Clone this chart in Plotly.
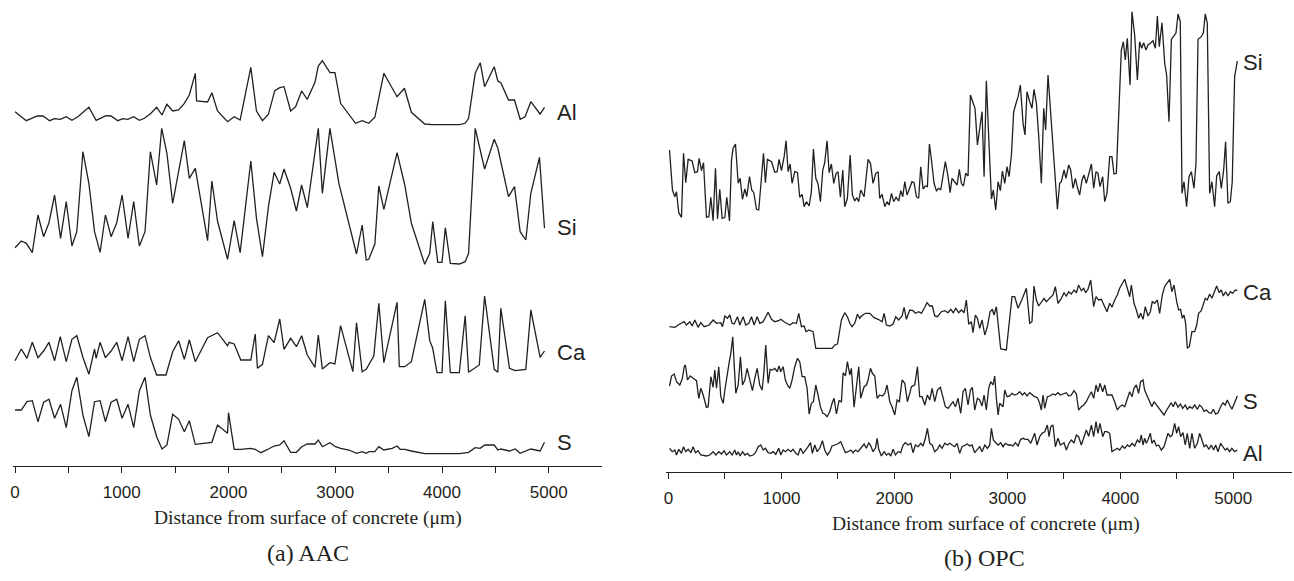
import plotly.graph_objects as go

# ---------------- data (x in µm, relative intensity) ----------------
aac_al = [(0,13.3),(106,4.3),(209,9),(262,9),(324,4.3),(371,6.3),(424,5.7),(480,8.3),(533,4.7),(589,8.3),(692,17.7),(760,4.7),(853,9.3),(900,9),(963,4.3),(1009,6.3),(1056,5.7),(1112,8.3),(1165,4.7),(1212,6.7),(1274,11.7),(1327,17.7),(1377,10),(1423,20.7),(1477,14),(1533,15),(1586,21.7),(1633,30),(1689,51.7),(1701,24),(1804,23),(1844,32.3),(1897,14),(1991,3.3),(2053,8.3),(2109,5),(2209,57.7),(2262,14),(2318,4.3),(2374,10.7),(2433,34.3),(2480,37.3),(2520,38.3),(2582,14),(2629,18.3),(2685,34),(2738,25.7),(2810,42.7),(2841,59),(2879,64.3),(2950,52.3),(2997,52.3),(3050,21.7),(3128,10),(3190,1.7),(3252,4.3),(3314,1.7),(3371,7.7),(3455,51.7),(3579,28.3),(3648,36.7),(3713,12.7),(3838,1),(3907,0.3),(4165,0.3),(4217,1.7),(4249,6.7),(4311,51.7),(4358,62.3),(4399,38.3),(4489,58.3),(4523,44),(4551,42.3),(4623,25),(4679,25),(4732,5.7),(4778,8.3),(4832,23.3),(4919,11),(4960,17.7)]
aac_si = [(0,17.3),(59,24),(106,21.7),(162,12.3),(215,50),(268,28.3),(318,42.3),(371,70),(427,26.7),(480,63.3),(533,19),(579,33.3),(636,113.3),(692,81.7),(745,33.3),(797,12.7),(847,50),(900,28.3),(953,42.3),(1003,70),(1059,26.7),(1112,63.3),(1165,19),(1218,33.3),(1268,113.3),(1327,80),(1374,136.7),(1423,111.7),(1477,61.7),(1586,124.3),(1633,86.7),(1689,96.7),(1804,24.3),(1844,84),(1897,44),(1991,5.7),(2053,44.3),(2109,12.3),(2209,104),(2262,46.7),(2318,8.3),(2374,58.3),(2427,92.7),(2480,81),(2520,96),(2582,76.7),(2636,54),(2685,80),(2738,57.3),(2841,136.7),(2879,71.7),(2950,136.7),(3034,81.7),(3128,41.7),(3199,11),(3252,40),(3290,5),(3314,5.7),(3371,21),(3408,79),(3455,55.7),(3579,112.3),(3651,80),(3713,41.7),(3838,0.7),(3885,11.7),(3913,43.3),(3960,2.7),(4000,2.7),(4031,37.3),(4078,1.7),(4162,1),(4217,3.3),(4249,11.7),(4311,136.7),(4399,96),(4489,125.7),(4523,116.7),(4623,68.3),(4679,78.3),(4732,33.3),(4785,25),(4832,71.7),(4913,107.7),(4960,36.7)]
aac_ca = [(0,15.3),(59,27),(112,17.7),(162,33.7),(215,18.3),(268,25),(318,33.7),(371,15.3),(424,39.3),(480,14.3),(533,36.7),(579,40.3),(636,18.7),(692,1.7),(745,27),(760,17.7),(797,33.7),(847,18.3),(900,25),(953,33.7),(1003,15.3),(1059,39.3),(1112,14.3),(1165,36.7),(1218,40.3),(1268,18.7),(1327,1),(1414,1),(1477,24.3),(1533,35.3),(1586,16.7),(1633,36),(1689,14.3),(1804,38.3),(1897,43.3),(1991,30.3),(2006,33.7),(2053,32),(2115,16),(2209,16),(2250,42),(2271,7.7),(2318,11.7),(2374,40.3),(2427,33.3),(2480,57),(2520,26.7),(2582,37.7),(2636,29.3),(2685,40.3),(2738,21),(2810,8.7),(2841,41),(2879,7),(2950,13.3),(2997,12),(3050,50.3),(3165,4.3),(3199,53.3),(3252,4.3),(3290,6.7),(3361,20),(3408,72.7),(3455,13.3),(3579,73.7),(3600,9.3),(3651,9.3),(3713,14.3),(3838,76.7),(3885,35.3),(3913,27.7),(3953,3.3),(4000,3.3),(4031,75.3),(4078,3.3),(4162,3.3),(4217,60.3),(4249,3.7),(4349,11),(4399,80),(4489,6.7),(4523,3.7),(4551,67.7),(4632,7.7),(4685,5.3),(4785,6.7),(4832,66),(4919,18.7),(4960,25)]
aac_s = [(0,45),(59,45),(112,53.3),(162,54.3),(215,33.3),(268,52.7),(318,55.7),(371,36.7),(427,50.7),(480,27.3),(533,64.3),(579,77.7),(636,40),(692,18.3),(745,53.3),(797,54.3),(847,33.3),(900,52.7),(953,55.7),(1003,36.7),(1059,50.7),(1112,27.3),(1165,64.3),(1218,77.7),(1268,40),(1327,18.3),(1377,6),(1423,10),(1477,40.7),(1533,35.7),(1586,23.3),(1633,34.3),(1689,10.7),(1804,11.7),(1844,12.7),(1897,30),(1991,21.7),(2000,42.3),(2053,5.7),(2115,5.7),(2209,6.7),(2250,5.7),(2303,2.3),(2374,6),(2427,9),(2480,10),(2520,14.3),(2582,2.7),(2636,2.7),(2685,8.3),(2738,11),(2810,11),(2841,15),(2879,8.3),(2950,12.3),(3003,8.3),(3050,6.7),(3128,5),(3199,1.7),(3252,3.3),(3290,1.7),(3314,3.3),(3371,3.3),(3408,8.3),(3455,5),(3533,6.7),(3579,9),(3608,5.7),(3651,5.7),(3713,4),(3838,1.3),(4162,1.3),(4249,2.7),(4311,7.3),(4358,6.7),(4399,10),(4489,10),(4523,5),(4551,6),(4632,4),(4685,6),(4732,1.7),(4785,4),(4832,6),(4919,4),(4960,12.7)]

opc_si = [(9,72),(35,32),(56,25.3),(71,30.3),(91,9.3),(115,4.7),(133,68.7),(153,39.3),(174,62.7),(209,61),(233,49.3),(257,50.3),(271,63.7),(292,51.3),(310,59.3),(336,4.7),(357,5.3),(375,24.7),(395,1.3),(416,53.7),(434,3),(454,32.7),(475,3.7),(499,4.7),(516,24.7),(540,1),(558,62),(572,73.7),(593,78),(617,38.7),(634,43.7),(655,22.7),(676,33),(693,25.3),(717,45.3),(737,32),(755,29.3),(779,12.7),(799,12),(823,47),(841,68.7),(858,39.3),(876,62.7),(912,60.3),(941,49.7),(962,50.3),(979,62.7),(1000,51.3),(1024,65.3),(1041,81.3),(1059,50.3),(1077,58),(1094,38.7),(1118,50.3),(1142,49.3),(1162,24.7),(1183,27.7),(1201,15.3),(1221,20.3),(1245,16),(1265,30.3),(1283,73),(1304,43.7),(1324,38.3),(1345,20.3),(1366,52),(1383,59.3),(1404,81.3),(1422,49.3),(1442,58),(1463,38.7),(1484,48.7),(1501,50.3),(1522,24.7),(1543,52),(1560,15.3),(1584,23.7),(1608,67),(1628,27),(1649,21),(1667,24.3),(1684,20.3),(1702,32),(1732,25.3),(1767,62.7),(1788,58.7),(1811,38.7),(1835,48.7),(1856,50.3),(1870,23.7),(1891,27.7),(1915,15.3),(1935,20.3),(1953,17),(1974,28.7),(1994,20.3),(2015,24.7),(2038,21),(2056,31.3),(2074,25.3),(2092,40.3),(2112,27),(2136,35.3),(2156,40.3),(2174,39.3),(2195,25.3),(2215,23.7),(2233,55.3),(2254,33),(2274,36),(2292,35.3),(2310,78),(2328,62),(2351,38.7),(2372,31.3),(2392,33.7),(2410,32),(2434,47),(2451,60.3),(2475,45.3),(2493,29.3),(2510,43.7),(2534,40.3),(2555,37),(2575,52.7),(2593,38.7),(2611,36),(2631,48.7),(2652,46),(2673,127),(2693,120.3),(2714,113.7),(2735,77),(2755,95.3),(2776,110.3),(2794,45.3),(2814,141.3),(2835,85.3),(2859,23),(2876,32),(2897,12),(2918,40.3),(2938,31.3),(2956,51),(2977,38.7),(2997,55.3),(3015,45.3),(3036,67),(3056,110.3),(3077,118.7),(3095,125.3),(3115,137),(3139,98.7),(3156,87),(3174,130.3),(3198,120.3),(3218,113.7),(3236,132.7),(3257,118.7),(3277,87),(3301,38.7),(3322,113.7),(3339,92),(3360,147),(3384,107),(3404,73.7),(3425,35.3),(3443,12.7),(3463,38.7),(3478,40.3),(3502,52),(3519,43.7),(3543,57),(3561,52),(3581,33.7),(3602,43.7),(3620,34.7),(3640,27),(3661,42),(3679,47),(3699,38.7),(3720,48.7),(3744,58),(3764,33.7),(3785,50.3),(3802,48.7),(3820,35.3),(3844,45.3),(3862,20.3),(3882,28.7),(3906,65.3),(3926,65.3),(3944,48),(3965,48.7),(3985,98.7),(4009,172),(4027,180.3),(4044,162),(4062,183.7),(4086,137),(4103,210.3),(4127,187),(4151,142),(4171,180.3),(4189,173.7),(4207,179.3),(4227,172),(4245,177),(4266,178.7),(4289,181.3),(4310,173.7),(4328,206),(4345,175.3),(4369,199.3),(4393,158.7),(4410,147),(4431,100.3),(4452,182.7),(4475,186),(4493,189.3),(4511,208),(4531,200.3),(4546,28.7),(4564,40.3),(4587,15.3),(4608,45.3),(4629,50.3),(4652,33.7),(4670,58.7),(4688,182.7),(4717,185.3),(4735,189.3),(4752,208),(4770,198.7),(4791,28.7),(4811,40.3),(4835,15.3),(4853,46),(4876,50.3),(4894,33.7),(4915,52),(4932,80.3),(4953,18.7),(4974,20.3),(4991,40.3),(5012,145.3),(5036,161)]
opc_ca = [(9,23.3),(56,22.7),(100,26),(139,28.3),(159,25),(189,28.3),(209,24),(233,30),(262,22.7),(286,27.3),(316,23.3),(360,25),(395,30),(425,26.7),(463,27.3),(478,23.3),(499,34),(522,31.7),(543,35),(563,26.7),(581,26),(611,33.3),(631,25),(661,33.3),(684,25),(711,26.7),(735,33.3),(758,25),(785,33.3),(808,26.7),(838,28.3),(858,33.3),(882,37.7),(912,30.7),(941,28.3),(976,29.3),(994,30.7),(1029,27.7),(1074,25),(1103,27.3),(1133,26.7),(1153,36.7),(1177,23.3),(1201,24),(1218,18.3),(1242,20),(1280,18.3),(1304,1.7),(1448,1.7),(1472,5),(1496,6),(1531,30),(1560,37.3),(1584,33.3),(1605,26.7),(1625,23.3),(1649,26.7),(1673,35.7),(1693,31.7),(1708,34),(1743,36.7),(1782,36.7),(1820,32.3),(1856,30.7),(1891,28.3),(1909,36.7),(1929,25),(1959,24),(1988,26),(2012,33.3),(2038,30),(2068,34),(2086,42.7),(2106,30.7),(2136,40),(2165,39.3),(2186,36.7),(2215,38.3),(2239,36.7),(2269,42.7),(2289,47.3),(2313,44),(2336,44),(2357,34),(2381,33.3),(2416,38.3),(2446,39.3),(2475,37.3),(2499,40.7),(2522,37.3),(2543,41.7),(2569,37.3),(2593,40),(2617,37.3),(2637,50),(2658,25.7),(2681,28.3),(2696,17.3),(2717,35),(2735,31.7),(2755,21.7),(2776,30),(2800,15),(2823,23.3),(2847,38.3),(2867,40.7),(2882,35),(2903,43.3),(2941,1),(2991,0),(3021,33.3),(3041,53.3),(3065,53.3),(3095,41.7),(3130,50.7),(3168,61.7),(3198,26.7),(3218,28.3),(3236,64),(3257,50),(3277,44),(3301,48.3),(3325,51.7),(3345,48.3),(3375,51.7),(3404,55),(3425,63.3),(3448,46.7),(3478,51.7),(3502,57.3),(3522,54),(3543,58.3),(3566,56),(3590,60),(3611,57.3),(3631,65),(3655,59.3),(3676,61.7),(3693,57.3),(3714,60.7),(3738,70),(3764,43.3),(3785,53.3),(3808,50),(3832,50.7),(3856,45),(3882,38.3),(3906,46.7),(3926,42.7),(3950,50),(3974,55),(3994,61.7),(4018,66.7),(4039,70.7),(4062,61.7),(4083,53.3),(4098,65),(4121,46.7),(4142,40),(4162,31.7),(4180,36.7),(4201,30.7),(4221,43.3),(4245,34),(4266,38.3),(4283,48.3),(4304,46.7),(4328,50),(4348,36.7),(4372,55),(4392,63.3),(4416,66.7),(4437,70.7),(4457,58.3),(4475,65),(4499,48.3),(4516,40),(4534,40.7),(4549,31.7),(4564,35),(4578,26.7),(4593,1.7),(4611,3.3),(4634,18.3),(4658,18.3),(4676,25),(4693,36.7),(4717,39.3),(4735,46.7),(4752,51.7),(4770,50),(4791,56),(4811,51.7),(4835,58.3),(4853,64),(4876,57.3),(4894,60),(4912,54),(4932,58.3),(4953,54),(4974,58.3),(4994,56.7),(5018,60),(5036,59.3)]
opc_s = [(9,33),(27,43),(50,45),(71,37.3),(100,34),(121,39.7),(139,52.3),(150,54),(168,39),(192,43),(218,40.7),(248,38.3),(268,20.7),(286,30.7),(307,24),(336,11.7),(351,12.3),(375,42.3),(395,31.7),(410,49),(425,30.7),(445,52.3),(463,22.3),(484,15.7),(499,29),(522,47.3),(537,56.3),(552,65.7),(569,82.3),(581,55.7),(596,25.7),(617,34),(637,62.3),(655,34),(676,39),(696,50.7),(720,39),(743,28.3),(764,40.7),(785,50.7),(808,34),(829,29),(844,45.7),(861,74),(882,35.7),(900,49.7),(920,49),(941,50.7),(962,47.3),(979,53),(994,47.3),(1015,52.3),(1035,39),(1053,34),(1074,30.7),(1094,39),(1118,52.3),(1142,60.7),(1162,57.3),(1183,42.3),(1206,42.3),(1227,30.7),(1245,5),(1265,15.7),(1283,17.3),(1304,34),(1324,24),(1345,12.3),(1366,5.7),(1383,5),(1404,2.3),(1428,7.3),(1448,15.7),(1466,20.7),(1487,5),(1510,18.3),(1531,17.3),(1546,46.3),(1566,43),(1584,57.3),(1605,44),(1619,50.7),(1643,11.7),(1664,32.3),(1684,52.3),(1702,20.7),(1732,32.3),(1752,34),(1767,39),(1788,50.7),(1805,45.7),(1826,43),(1847,20.7),(1870,24),(1894,23),(1915,25.7),(1935,34),(1959,17.3),(1979,12.3),(2003,4),(2024,19),(2044,17.3),(2068,39),(2092,35.7),(2115,17.3),(2136,25.7),(2151,32.3),(2180,34),(2204,52.3),(2224,22.3),(2245,22.3),(2269,14),(2292,24),(2313,19),(2334,30.7),(2357,17.3),(2381,29),(2407,31.7),(2431,22.3),(2451,12.3),(2475,10.7),(2499,14),(2519,17.3),(2540,12.3),(2563,20.7),(2587,5.7),(2608,27.3),(2628,30.7),(2652,14),(2673,29),(2690,31.7),(2711,9),(2735,20.7),(2755,19),(2776,13),(2794,24),(2814,9),(2835,30.7),(2853,37.3),(2873,34),(2888,43),(2903,20.7),(2918,4),(2932,15.7),(2947,14),(2962,12.3),(2977,29),(2997,22.3),(3021,23),(3041,25.7),(3065,24),(3089,25),(3109,27.3),(3133,24),(3153,26.3),(3174,23),(3198,26.3),(3218,24),(3242,22.3),(3266,21.3),(3286,15.7),(3301,9),(3316,24),(3331,10.7),(3354,22.3),(3375,23),(3404,25),(3425,24),(3448,26.3),(3469,24),(3502,25),(3522,26.3),(3543,23),(3566,24),(3590,28.3),(3611,25),(3631,9),(3655,12.3),(3676,14),(3699,17.3),(3720,22.3),(3744,27.3),(3764,20.7),(3785,34),(3802,27.3),(3820,35.7),(3844,27.3),(3862,34),(3882,24),(3906,24),(3926,24),(3950,17.3),(3974,9),(3994,12.3),(4018,14),(4039,12.3),(4059,19),(4083,27.3),(4104,22.3),(4121,30.7),(4142,34),(4162,25.7),(4180,37.3),(4201,39),(4215,29),(4239,22.3),(4260,16.3),(4280,12.3),(4298,17.3),(4319,14),(4339,10.7),(4363,7.7),(4387,4),(4407,8.3),(4428,11.7),(4451,16.3),(4469,12.3),(4487,17.3),(4511,11.7),(4531,15),(4552,10.7),(4575,14),(4593,9.7),(4614,12.3),(4637,10.7),(4658,14),(4682,9.7),(4702,14),(4723,11.7),(4741,7.7),(4761,9),(4785,6.3),(4805,5.7),(4823,9.7),(4844,5),(4865,6.3),(4888,12.3),(4909,16.3),(4929,14),(4947,19),(4968,14),(4988,9.7),(5012,16.3),(5036,23)]
opc_al = [(9,9.7),(33,6.3),(56,8),(71,3),(91,8.7),(115,4.7),(133,11.3),(153,6.3),(174,8.7),(198,5.3),(218,11.3),(239,5.3),(262,7.3),(286,3),(336,2),(366,3),(395,6.3),(419,3),(445,6.3),(469,4),(493,7.3),(513,3),(543,6.3),(563,3),(587,8),(602,3),(617,6.3),(634,2),(655,6.3),(676,3),(699,4.7),(720,2),(749,3),(770,5.3),(794,11.3),(817,13),(838,8),(858,9.7),(882,5.3),(906,4.7),(926,6.3),(950,3.7),(976,9.7),(994,3),(1015,8),(1035,6.3),(1059,8.7),(1083,6.3),(1103,8.7),(1127,4.7),(1147,3),(1168,9.7),(1192,4.7),(1212,7.3),(1236,11.3),(1257,15.3),(1274,4.7),(1295,13),(1316,6.3),(1339,9.7),(1363,17.3),(1383,8),(1407,3),(1428,6.3),(1448,12),(1472,13),(1496,14),(1525,16.3),(1546,11.3),(1566,5.3),(1590,6.3),(1614,8),(1634,5.3),(1655,8),(1678,6.3),(1702,9.7),(1732,14),(1752,9.7),(1773,15.3),(1791,12),(1811,6.3),(1832,9.7),(1847,19.7),(1861,8.7),(1885,2),(1909,6.3),(1929,3),(1950,4.7),(1968,2),(1988,8.7),(2009,3),(2032,6.3),(2056,5.3),(2077,13),(2097,15.3),(2121,13),(2145,14.7),(2165,5.3),(2186,13),(2210,11.3),(2233,14.7),(2254,12),(2274,19.7),(2292,29.7),(2313,14.7),(2334,13),(2357,6.3),(2381,8.7),(2401,13),(2422,9.7),(2446,14.7),(2469,13),(2490,14.7),(2510,13),(2534,11.3),(2555,14.7),(2578,4.7),(2599,11.3),(2623,13),(2646,14),(2667,12),(2687,13),(2711,5.3),(2735,8),(2755,11.3),(2776,6.3),(2800,13),(2823,9.7),(2844,13),(2859,29.7),(2876,18),(2897,15.3),(2918,13),(2941,15.3),(2962,11.3),(2982,14.7),(3006,13),(3030,13),(3050,12),(3071,15.3),(3095,12),(3118,18.7),(3139,19.7),(3159,18.7),(3183,18.7),(3207,14.7),(3227,19.7),(3242,24.7),(3263,13),(3286,21.3),(3307,24.7),(3331,26.3),(3354,33),(3369,21.3),(3384,31.3),(3404,33),(3425,11.3),(3448,19.7),(3469,13),(3502,15.3),(3522,8),(3543,14),(3566,18),(3590,15.3),(3611,23),(3631,21.3),(3655,13),(3676,19.7),(3699,28),(3720,21.7),(3744,33),(3764,21.3),(3785,36.3),(3802,24.7),(3820,34.7),(3844,21.3),(3862,26.3),(3882,26.3),(3906,24.7),(3926,6.3),(3950,8),(3974,9.7),(3994,8),(4018,12),(4039,9.7),(4062,13),(4083,11.3),(4104,14.7),(4127,12),(4151,18),(4171,15.3),(4186,23),(4201,13),(4215,19.7),(4230,14.7),(4245,18),(4266,24.7),(4280,14.7),(4298,18),(4319,12),(4339,13),(4363,8),(4387,11.3),(4407,18),(4422,24.7),(4443,21.3),(4460,23),(4481,34.7),(4499,24.7),(4516,31.3),(4534,21.3),(4555,25.3),(4575,13),(4593,24.7),(4614,9.7),(4634,24.7),(4658,9.7),(4682,14.7),(4702,24.7),(4723,18),(4741,11.3),(4761,13),(4785,8.7),(4805,13),(4826,8),(4844,13),(4865,6.3),(4888,14.7),(4909,11.3),(4929,8),(4947,9.7),(4968,6.3),(4988,9.7),(5012,6.3),(5036,8)]

element_names = ["Al", "Si", "Ca", "S"]
tick_values = [0, 500, 1000, 1500, 2000, 2500, 3000, 3500, 4000, 4500, 5000]
tick_labels = ["0", "", "1000", "", "2000", "", "3000", "", "4000", "", "5000"]
x_title = "Distance from surface of concrete (\u03bcm)"
panel_titles = ["(a) AAC", "(b) OPC"]

# ---------------- layout constants (positions / styles) ----------------
W, H = 1294, 581
LINE = dict(color="#231f20", width=1.3)
SANS = "Liberation Sans, Arial, sans-serif"
SERIF = "Liberation Serif, Times New Roman, serif"
aac_offsets = {"Al": 341, "Si": 201, "Ca": 90, "S": 11}
opc_offsets = {"Si": 250, "Ca": 122, "S": 53, "Al": 14}
aac_label_y = {"Al": 354, "Si": 239, "Ca": 114, "S": 24}
opc_label_y = {"Si": 410, "Ca": 180, "S": 71, "Al": 19}

fig = go.Figure()

aac = {"Al": aac_al, "Si": aac_si, "Ca": aac_ca, "S": aac_s}
opc = {"Al": opc_al, "Si": opc_si, "Ca": opc_ca, "S": opc_s}

for name in element_names:
    pts = aac[name]
    fig.add_trace(go.Scatter(x=[p[0] for p in pts], y=[p[1] + aac_offsets[name] for p in pts],
                             mode="lines", line=LINE, xaxis="x", yaxis="y", showlegend=False, hoverinfo="skip"))
    pts = opc[name]
    fig.add_trace(go.Scatter(x=[p[0] for p in pts], y=[p[1] + opc_offsets[name] for p in pts],
                             mode="lines", line=LINE, xaxis="x2", yaxis="y2", showlegend=False, hoverinfo="skip"))

PLOT_H = 472
axis_common = dict(showline=True, linecolor="#231f20", linewidth=1, ticks="outside", ticklen=6,
                   tickcolor="#231f20", tickwidth=1, tickvals=tick_values, ticktext=tick_labels,
                   showgrid=False, zeroline=False, tickfont=dict(family=SANS, size=17, color="#231f20"),
                   ticklabelstandoff=5)
fig.update_layout(
    width=W, height=H, margin=dict(l=0, r=0, t=0, b=H - PLOT_H, pad=0),
    paper_bgcolor="white", plot_bgcolor="white",
    xaxis=dict(domain=[10 / W, 600 / W], range=[-19, 5495], anchor="y", **axis_common),
    yaxis=dict(domain=[(PLOT_H - 466) / PLOT_H, 1], range=[0, 466], visible=False, anchor="x"),
    xaxis2=dict(domain=[665 / W, 1292 / W], range=[-18, 5520], anchor="y2", **axis_common),
    yaxis2=dict(domain=[0, 1], range=[0, PLOT_H], visible=False, anchor="x2"),
)

ann = []
for name in element_names:
    ann.append(dict(x=5060, y=aac_label_y[name], xref="x", yref="y", text=name, showarrow=False,
                    xanchor="left", yanchor="middle", font=dict(family=SANS, size=22, color="#231f20")))
    ann.append(dict(x=5070, y=opc_label_y[name], xref="x2", yref="y2", text=name, showarrow=False,
                    xanchor="left", yanchor="middle", font=dict(family=SANS, size=22, color="#231f20")))

def py(p):
    return (PLOT_H - p) / PLOT_H

ann += [
    dict(x=306 / W, y=py(518), xref="paper", yref="paper", text=x_title, showarrow=False,
         xanchor="center", yanchor="middle", font=dict(family=SERIF, size=19.5, color="#231f20")),
    dict(x=985 / W, y=py(524), xref="paper", yref="paper", text=x_title, showarrow=False,
         xanchor="center", yanchor="middle", font=dict(family=SERIF, size=19.5, color="#231f20")),
    dict(x=306 / W, y=py(553), xref="paper", yref="paper", text=panel_titles[0], showarrow=False,
         xanchor="center", yanchor="middle", font=dict(family=SERIF, size=24, color="#231f20")),
    dict(x=984 / W, y=py(558), xref="paper", yref="paper", text=panel_titles[1], showarrow=False,
         xanchor="center", yanchor="middle", font=dict(family=SERIF, size=24, color="#231f20")),
]
fig.update_layout(annotations=ann)

fig.write_html("out.html")
